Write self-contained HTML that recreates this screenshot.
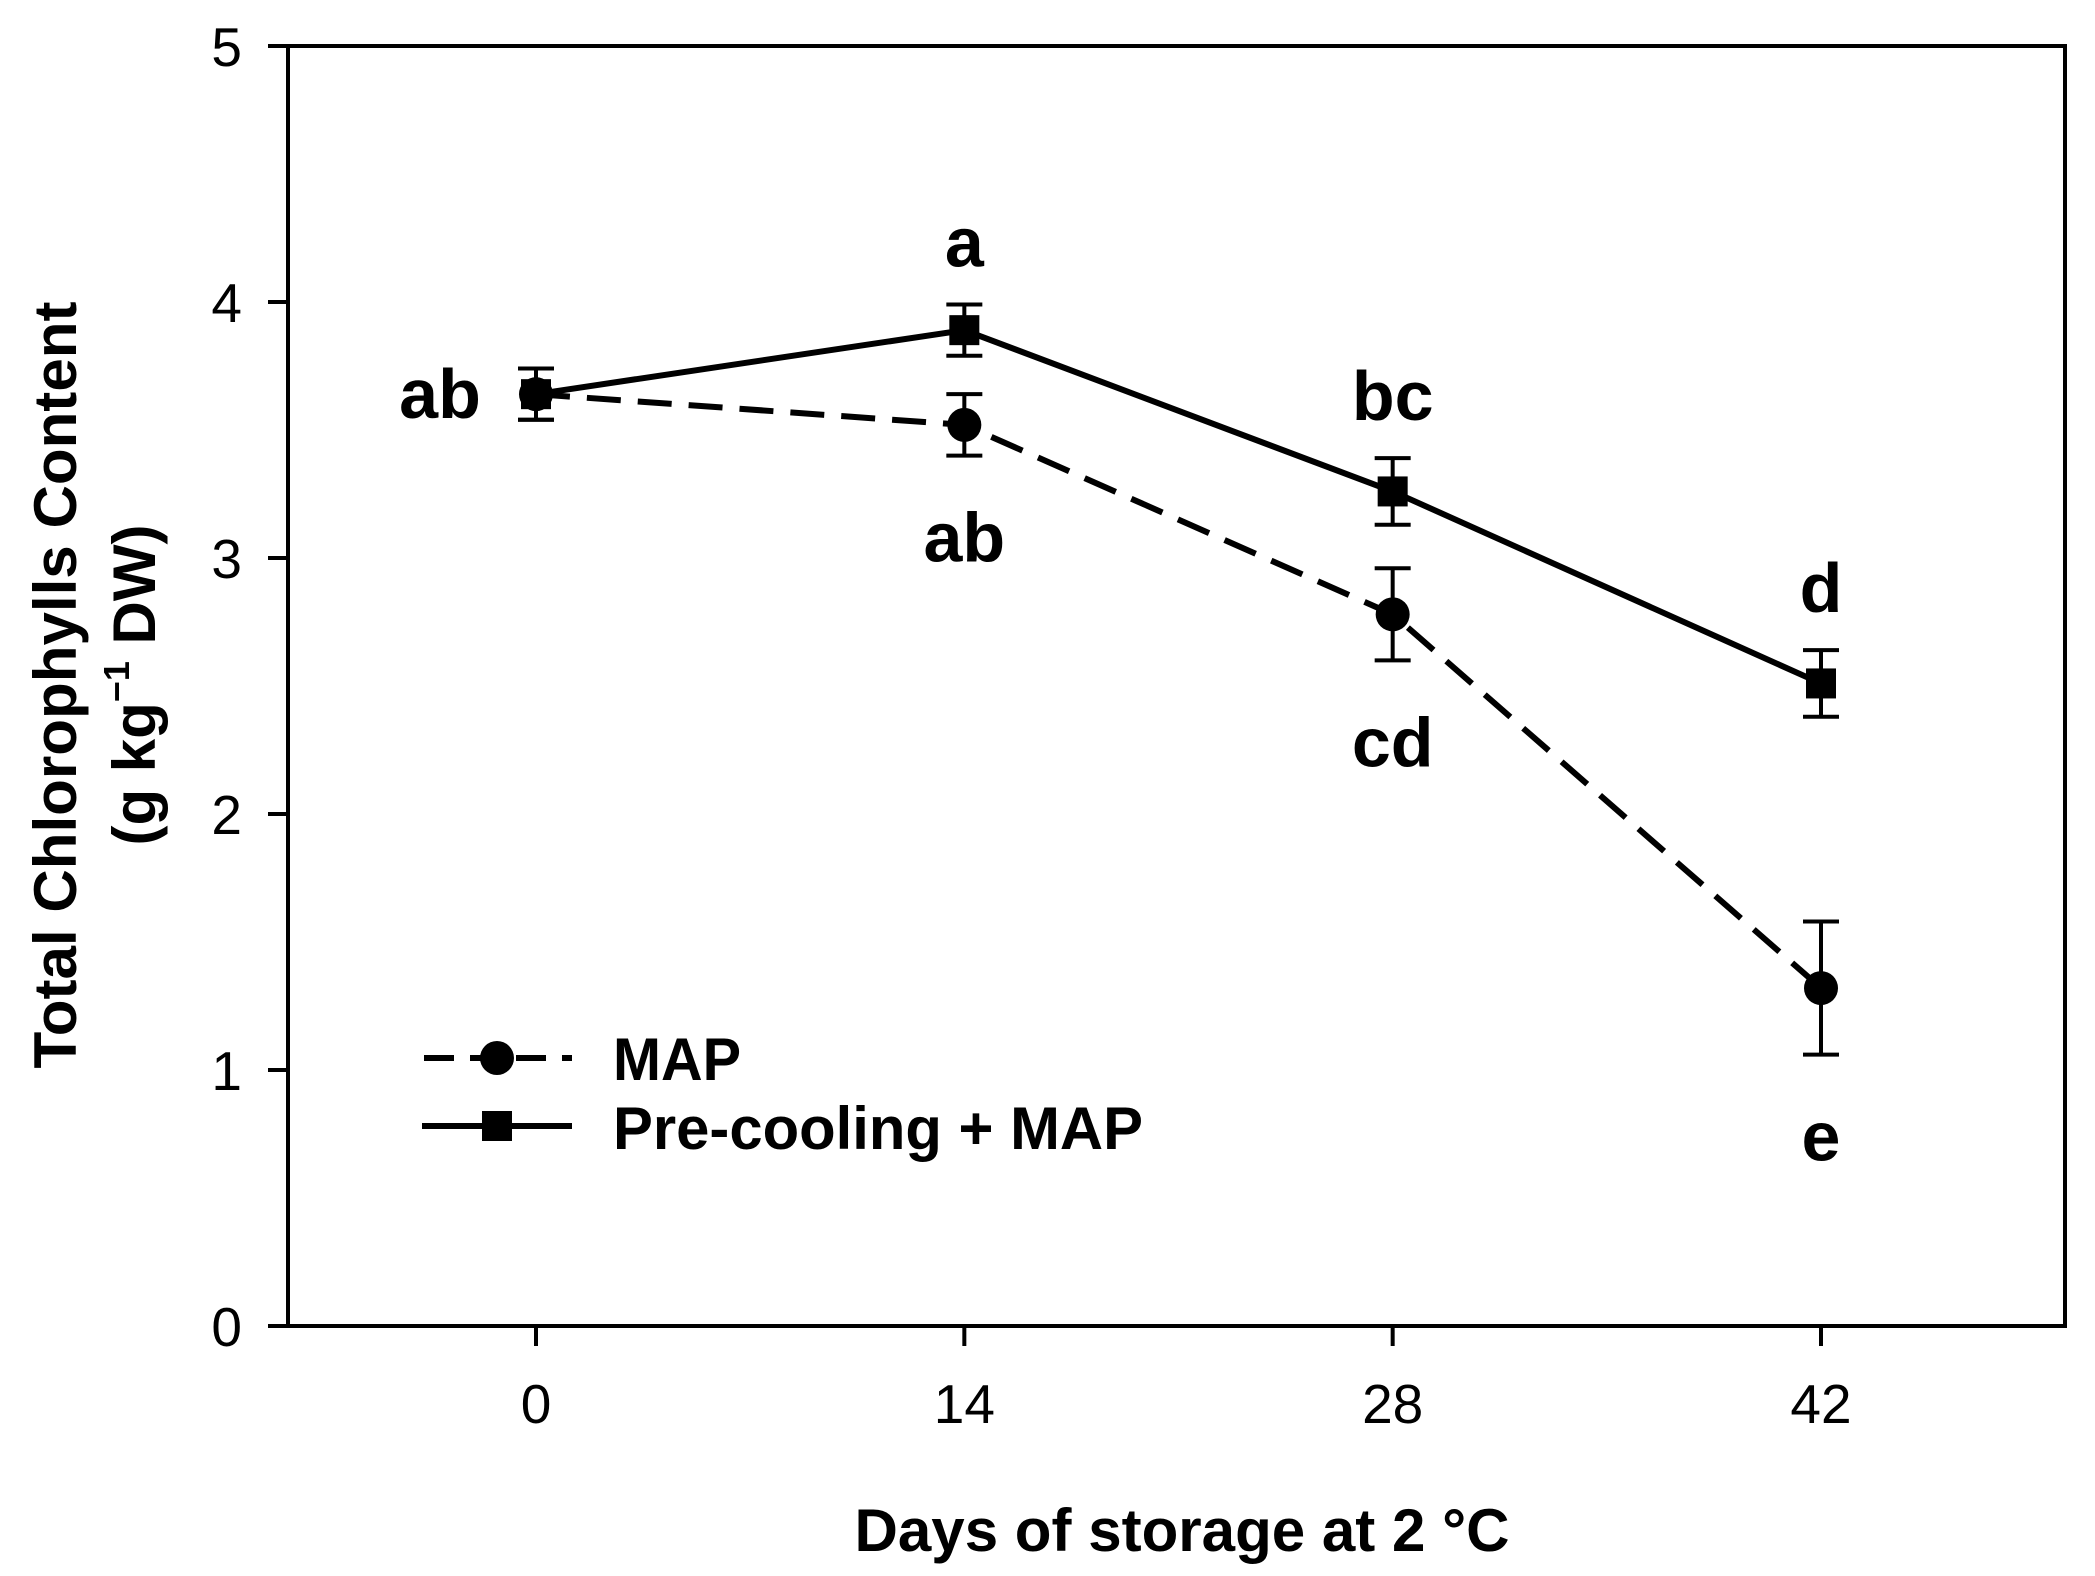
<!DOCTYPE html>
<html><head><meta charset="utf-8"><style>
html,body{margin:0;padding:0;background:#fff;}
svg{display:block;font-family:"Liberation Sans",Arial,sans-serif;}
</style></head><body>
<svg id="chart" width="2095" height="1576" viewBox="0 0 2095 1576" xmlns="http://www.w3.org/2000/svg">
<rect x="0" y="0" width="2095" height="1576" fill="#fff"/>
<g id="axes"></g>
<g id="series"></g>
<g id="legend">
  <line x1="422" y1="1058" x2="572" y2="1058" stroke="#000" stroke-width="6" stroke-dasharray="30,16" stroke-dashoffset="-2"/>
  <circle cx="497" cy="1058" r="17" fill="#000"/>
  <text x="613" y="1080" font-size="60" font-weight="bold" textLength="128" lengthAdjust="spacingAndGlyphs">MAP</text>
  <line x1="422" y1="1126" x2="572" y2="1126" stroke="#000" stroke-width="6"/>
  <rect x="482" y="1111" width="30" height="30" fill="#000"/>
  <text x="613" y="1149" font-size="60" font-weight="bold" textLength="530" lengthAdjust="spacingAndGlyphs">Pre-cooling + MAP</text>
</g>
<text x="1182" y="1551" font-size="60" font-weight="bold" text-anchor="middle" textLength="655" lengthAdjust="spacingAndGlyphs">Days of storage at 2 °C</text>
<g transform="translate(0,685) rotate(-90)">
  <text x="0" y="76" font-size="60" font-weight="bold" text-anchor="middle" textLength="767" lengthAdjust="spacingAndGlyphs">Total Chlorophylls Content</text>
  <text x="0" y="155" font-size="60" font-weight="bold" text-anchor="middle">(g kg<tspan font-size="36" dy="-26">−1</tspan><tspan dy="26"> DW)</tspan></text>
</g>
</svg>
<script>
const days = [0, 14, 28, 42];
const mapValues = [3.64, 3.52, 2.78, 1.32];
const mapErrors = [0.10, 0.12, 0.18, 0.26];
const preValues = [3.64, 3.89, 3.26, 2.51];
const preErrors = [0.10, 0.10, 0.13, 0.13];
const yTicks = [0, 1, 2, 3, 4, 5];
const xTicks = [0, 14, 28, 42];
const mapLetters = ["", "ab", "cd", "e"];
const preLetters = ["ab", "a", "bc", "d"];

const NS = "http://www.w3.org/2000/svg";
const X0 = 288, X1 = 2065, Y0 = 1326, Y1 = 46;
function xs(d){ return 536 + (1821 - 536) * d / 42; }
function ys(v){ return Y0 - (Y0 - Y1) * v / 5; }
function mk(tag, attrs, parent){
  const e = document.createElementNS(NS, tag);
  for (const k in attrs) e.setAttribute(k, attrs[k]);
  parent.appendChild(e);
  return e;
}
const axes = document.getElementById('axes');
const series = document.getElementById('series');

const frame = mk('rect', {x:X0, y:Y1, width:X1-X0, height:Y0-Y1, fill:'none', stroke:'#000', 'stroke-width':4}, axes);



yTicks.forEach(v => {
  const t = mk('line', {x1:268, x2:X0, y1:ys(v), y2:ys(v), stroke:'#000', 'stroke-width':4}, axes);
  
  
  const l = mk('text', {x:242, y:ys(v)+20, 'font-size':55, 'text-anchor':'end'}, axes);
  
  
  l.textContent = v;
});
xTicks.forEach(d => {
  const t = mk('line', {x1:xs(d), x2:xs(d), y1:Y0, y2:Y0+20, stroke:'#000', 'stroke-width':4}, axes);
  
  
  const l = mk('text', {x:xs(d), y:1423, 'font-size':55, 'text-anchor':'middle'}, axes);
  
  
  l.textContent = d;
});

function drawSeries(vals, errs, dashed, name){
  const pts = days.map((d,i) => xs(d) + ',' + ys(vals[i])).join(' ');
  const line = mk('polyline', {points:pts, fill:'none', stroke:'#000', 'stroke-width':6}, series);
  if (dashed) line.setAttribute('stroke-dasharray', '34,17');
  
  
  days.forEach((d,i) => {
    const x = xs(d), yt = ys(vals[i]+errs[i]), yb = ys(vals[i]-errs[i]);
    const eb = mk('path', {d:`M${x},${yt}V${yb}M${x-18},${yt}H${x+18}M${x-18},${yb}H${x+18}`, stroke:'#000', 'stroke-width':4, fill:'none'}, series);
    
    
  });
}
function drawMarkers(vals, shape, name){
  days.forEach((d,i) => {
    let m;
    if (shape === 'circle') m = mk('circle', {cx:xs(d), cy:ys(vals[i]), r:17, fill:'#000'}, series);
    else m = mk('rect', {x:xs(d)-15, y:ys(vals[i])-15, width:30, height:30, fill:'#000'}, series);
    
    
  });
}
drawSeries(mapValues, mapErrors, true, 'map');
drawSeries(preValues, preErrors, false, 'precooling');
drawMarkers(mapValues, 'circle', 'map');
drawMarkers(preValues, 'square', 'precooling');

function letter(txt, x, y){
  if (!txt) return;
  const t = mk('text', {x:x, y:y, 'font-size':70, 'font-weight':'bold', 'text-anchor':'middle'}, series);
  
  
  t.textContent = txt;
}
letter(preLetters[0], xs(0)-96, ys(preValues[0])+24);
for (let i = 1; i < days.length; i++) letter(preLetters[i], xs(days[i]), ys(preValues[i]+preErrors[i]) - 38);
for (let i = 1; i < days.length; i++) letter(mapLetters[i], xs(days[i]), ys(mapValues[i]-mapErrors[i]) + 106);
</script>
</body></html>
